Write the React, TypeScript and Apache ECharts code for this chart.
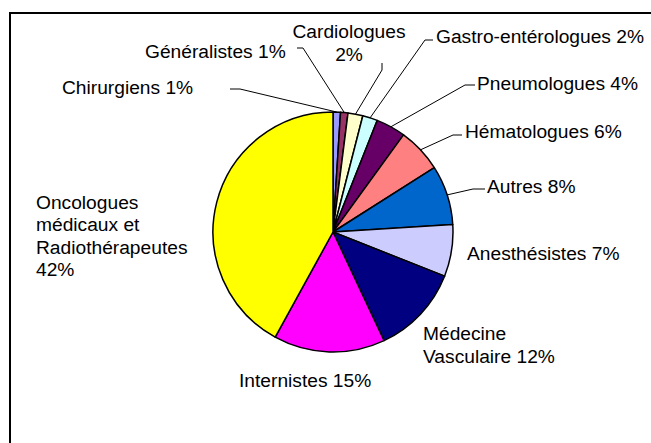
import React, { useEffect, useRef } from "react";
import * as echarts from "echarts";

const categories = [
  "Chirurgiens",
  "Généralistes",
  "Cardiologues",
  "Gastro-entérologues",
  "Pneumologues",
  "Hématologues",
  "Autres",
  "Anesthésistes",
  "Médecine\nVasculaire",
  "Internistes",
  "Oncologues\nmédicaux et\nRadiothérapeutes",
];
const values = [1, 1, 2, 2, 4, 6, 8, 7, 12, 15, 42];
const colors = [
  "#9999FF",
  "#993366",
  "#FFFFCC",
  "#CCFFFF",
  "#660066",
  "#FF8080",
  "#0066CC",
  "#CCCCFF",
  "#000080",
  "#FF00FF",
  "#FFFF00",
];

type LabelPlace = {
  x: number;
  y: number;
  align: "left" | "center" | "right";
  sep: string;
  line: number[][] | null;
};

const labelPlaces: LabelPlace[] = [
  { x: 62, y: 87, align: "left", sep: " ", line: [[240, 89], [230, 89]] },
  { x: 145, y: 51, align: "left", sep: " ", line: [[303, 48], [297, 48]] },
  { x: 349, y: 43, align: "center", sep: "\n", line: [[382, 70], [382, 63]] },
  { x: 436, y: 36, align: "left", sep: " ", line: [[425, 40], [433, 40]] },
  { x: 477, y: 83, align: "left", sep: " ", line: [[465, 85], [475, 85]] },
  { x: 465, y: 131, align: "left", sep: " ", line: [[453, 135], [462, 135]] },
  { x: 487, y: 186, align: "left", sep: " ", line: [[473, 189], [485, 189]] },
  { x: 467, y: 253, align: "left", sep: " ", line: null },
  { x: 423, y: 345, align: "left", sep: " ", line: null },
  { x: 239, y: 380, align: "left", sep: " ", line: null },
  { x: 36, y: 236, align: "left", sep: "\n", line: null },
];

export default function App() {
  const ref = useRef<HTMLDivElement>(null);
  useEffect(() => {
    if (!ref.current) return;
    document.documentElement.style.overflow = "hidden";
    document.body.style.margin = "0";
    document.body.style.overflow = "hidden";
    const chart = echarts.init(ref.current, null, { renderer: "svg" });
    const data = categories.map((name, i) => ({
      name,
      value: values[i],
      itemStyle: { color: colors[i] },
      labelLine: { show: labelPlaces[i].line !== null },
    }));
    chart.setOption({
      animation: false,
      backgroundColor: "#ffffff",
      graphic: [
        {
          type: "line",
          shape: { x1: 9, y1: 13, x2: 651, y2: 13 },
          style: { stroke: "#000000", lineWidth: 2 },
          silent: true,
        },
        {
          type: "line",
          shape: { x1: 10, y1: 12, x2: 10, y2: 443 },
          style: { stroke: "#000000", lineWidth: 2 },
          silent: true,
        },
      ],
      series: [
        {
          type: "pie",
          center: [333, 232],
          radius: 120,
          startAngle: 90,
          clockwise: true,
          avoidLabelOverlap: false,
          itemStyle: { borderColor: "#000000", borderWidth: 1.5 },
          label: {
            show: true,
            position: "outside",
            fontFamily: "'Liberation Sans', Arial, sans-serif",
            fontSize: 19.2,
            lineHeight: 22.5,
            color: "#000000",
            formatter: (p: any) =>
              `${p.name}${labelPlaces[p.dataIndex].sep}${p.value}%`,
          },
          labelLine: {
            show: true,
            lineStyle: { color: "#000000", width: 1 },
          },
          labelLayout: (params: any) => {
            const L = labelPlaces[params.dataIndex];
            const res: any = {
              x: L.x,
              y: L.y,
              align: L.align,
              verticalAlign: "middle",
            };
            if (L.line && params.labelLinePoints && params.labelLinePoints[0]) {
              const p0 = params.labelLinePoints[0];
              res.labelLinePoints = [[p0[0], p0[1]], L.line[0], L.line[1]];
            }
            return res;
          },
          data,
        },
      ],
    });
    return () => chart.dispose();
  }, []);
  return (
    <div
      ref={ref}
      style={{
        position: "fixed",
        left: 0,
        top: 0,
        width: 651,
        height: 443,
        background: "#fff",
      }}
    />
  );
}
